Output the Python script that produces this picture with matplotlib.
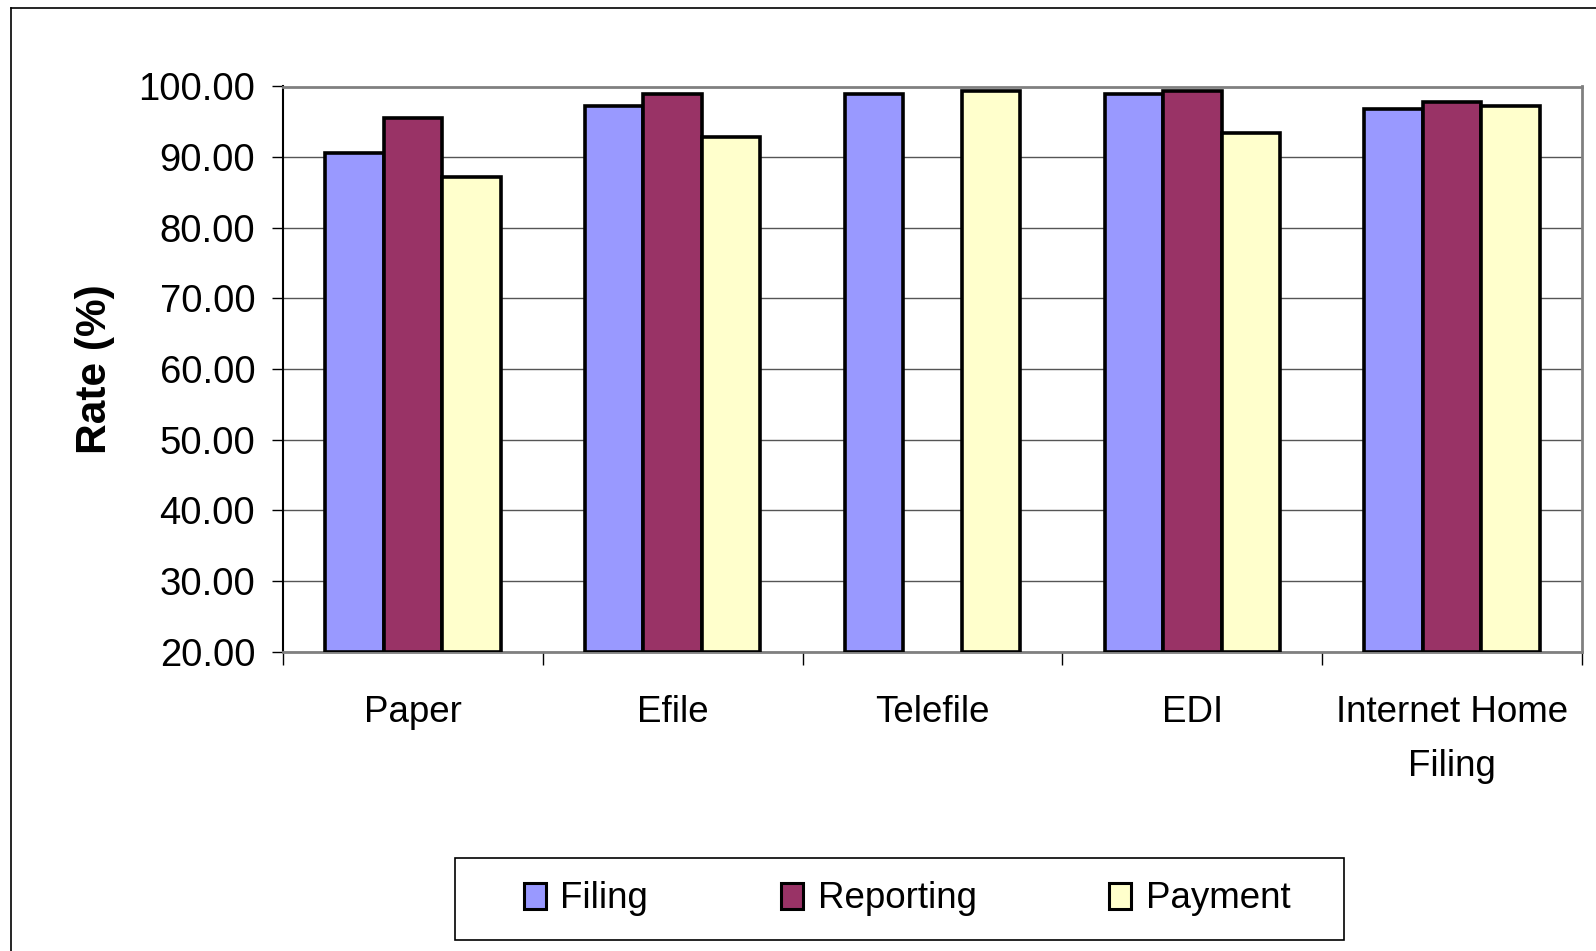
import numpy as np
import matplotlib
matplotlib.use("Agg")
from matplotlib import pyplot as plt
from matplotlib.lines import Line2D
from matplotlib.patches import Rectangle

categories = ["Paper", "Efile", "Telefile", "EDI", "Internet Home\nFiling"]
filing = [90.6, 97.3, 99.0, 99.0, 96.8]
reporting = [95.6, 99.0, np.nan, 99.4, 97.8]
payment = [87.2, 92.8, 99.4, 93.4, 97.3]
series_names = ["Filing", "Reporting", "Payment"]
y_ticks = [20, 30, 40, 50, 60, 70, 80, 90, 100]

COLORS = ["#9999FF", "#993366", "#FFFFCC"]
FONT = ["Liberation Sans", "DejaVu Sans"]


def main():
    W, H = 1596, 951
    fig = plt.figure(figsize=(W / 100, H / 100), dpi=100)
    fig.patch.set_facecolor("white")

    # plot area in pixel coordinates
    left, right, top, bottom = 283, 1582, 86.5, 651.7
    ax = fig.add_axes([left / W, 1 - bottom / H, (right - left) / W, (bottom - top) / H])

    x = np.arange(len(categories))
    bw = 0.225
    for i, (vals, name) in enumerate(zip([filing, reporting, payment], series_names)):
        heights = np.array(vals, dtype=float)
        ax.bar(x + (i - 1) * bw, heights - 20, bottom=20, width=bw,
               color=COLORS[i], edgecolor="black", linewidth=2.6,
               label=name, zorder=3)

    ax.set_xlim(-0.5, len(categories) - 0.5)
    ax.set_ylim(20, 100)

    # y axis
    ax.set_yticks(y_ticks)
    ax.set_yticklabels(["%.2f" % v for v in y_ticks], family=FONT, fontsize=27.5)
    ax.tick_params(axis="y", direction="out", length=8, width=1, pad=12, colors="black")
    ax.grid(axis="y", color="#555555", linewidth=1.0, zorder=0)

    # x axis: separators as major ticks, names on minor ticks
    ax.set_xticks(np.arange(-0.5, len(categories), 1.0))
    ax.set_xticklabels([])
    ax.set_xticks(x, minor=True)
    ax.set_xticklabels(categories, minor=True, family=FONT, fontsize=26.5,
                       linespacing=1.7)
    ax.tick_params(axis="x", which="major", direction="out", length=9, width=1)
    ax.tick_params(axis="x", which="minor", length=0, pad=31)

    for side in ["top", "right", "bottom"]:
        ax.spines[side].set_color("#808080")
        ax.spines[side].set_linewidth(2)
    ax.spines["left"].set_color("black")
    ax.spines["left"].set_linewidth(1.5)

    ax.set_ylabel("Rate (%)", family=FONT, fontsize=30.5, fontweight="bold")
    ax.yaxis.label.set_verticalalignment("center")
    ax.yaxis.set_label_coords((95 - left) / (right - left), 0.5)

    # legend: entries without frame, box drawn separately
    leg = fig.legend(loc="center", bbox_to_anchor=(907 / W, 1 - 899 / H),
                     ncol=3, frameon=False,
                     prop={"family": FONT, "size": 26.5},
                     handlelength=0.6, handleheight=0.7, handletextpad=0.4,
                     columnspacing=3.6, borderpad=0, borderaxespad=0)
    for h in leg.legend_handles:
        h.set_linewidth(2.2)
    fig.add_artist(Rectangle((455 / W, 1 - 940 / H), (1344 - 455) / W, (940 - 858) / H,
                             transform=fig.transFigure, fill=False,
                             edgecolor="black", linewidth=1.2))

    # outer chart border (left and top edges visible)
    fig.add_artist(Line2D([10.5 / W, 10.5 / W], [0, 1 - 8 / H],
                          transform=fig.transFigure, color="black", linewidth=1.2))
    fig.add_artist(Line2D([10.5 / W, 1], [1 - 8 / H, 1 - 8 / H],
                          transform=fig.transFigure, color="black", linewidth=1.2))

    fig.savefig("out.png", dpi=100)


if __name__ == "__main__":
    main()
